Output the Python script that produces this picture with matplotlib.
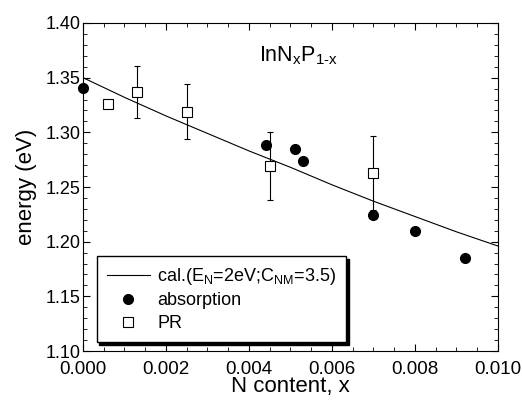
import numpy as np
import matplotlib
matplotlib.use("Agg")
import matplotlib.pyplot as plt
from matplotlib.ticker import MultipleLocator, FormatStrFormatter
from matplotlib.lines import Line2D

plt.rcParams['font.family'] = ['Liberation Sans', 'DejaVu Sans']
plt.rcParams['mathtext.fontset'] = 'custom'
plt.rcParams['mathtext.rm'] = 'Liberation Sans'
plt.rcParams['mathtext.it'] = 'Liberation Sans'
plt.rcParams['mathtext.default'] = 'rm'

# calculated curve
calc_x = [0.0, 0.001, 0.002, 0.003, 0.004, 0.005, 0.006, 0.007, 0.008, 0.009, 0.010]
calc_y = [1.350, 1.332, 1.315, 1.299, 1.283, 1.268, 1.252, 1.237, 1.223, 1.209, 1.196]

# absorption data
abs_x = [0.0, 0.0044, 0.0051, 0.0053, 0.0070, 0.0080, 0.0092]
abs_y = [1.341, 1.288, 1.285, 1.274, 1.224, 1.210, 1.185]

# PR data
pr_x = [0.0006, 0.0013, 0.0025, 0.0045, 0.0070]
pr_y = [1.326, 1.337, 1.319, 1.269, 1.263]
pr_err = [0.0, 0.024, 0.025, 0.031, 0.034]

fig = plt.figure(figsize=(5.22, 4.0), dpi=100)
ax = fig.add_axes([0.159, 0.1225, 0.795, 0.82])

ax.plot(calc_x, calc_y, color='black', lw=0.8)
ax.plot(abs_x, abs_y, 'o', color='black', ms=7, clip_on=False, zorder=5)
ax.errorbar(pr_x, pr_y, yerr=pr_err, fmt='s', mfc='white', mec='black', mew=0.8,
            ms=7, ecolor='black', elinewidth=0.8, capsize=2, capthick=0.8, zorder=4)

ax.set_xlim(0, 0.010)
ax.set_ylim(1.10, 1.40)
ax.xaxis.set_major_locator(MultipleLocator(0.002))
ax.xaxis.set_minor_locator(MultipleLocator(0.0005))
ax.yaxis.set_major_locator(MultipleLocator(0.05))
ax.yaxis.set_minor_locator(MultipleLocator(0.01))
ax.xaxis.set_major_formatter(FormatStrFormatter('%.3f'))
ax.yaxis.set_major_formatter(FormatStrFormatter('%.2f'))
ax.tick_params(which='both', direction='in', top=True, right=True)
ax.tick_params(which='major', length=5)
ax.tick_params(which='minor', length=3)
ax.tick_params(axis='x', pad=7, labelsize=13.5)
ax.tick_params(axis='y', pad=2, labelsize=13)

ax.set_xlabel('N content, x', fontsize=16, labelpad=-1)
ax.set_ylabel('energy (eV)', fontsize=16, labelpad=6)

ax.text(0.52, 0.90, r'InN$_x$P$_{1\text{-}x}$', transform=ax.transAxes,
        fontsize=15.5, ha='center', va='center')

handles = [
    Line2D([], [], color='black', lw=0.8),
    Line2D([], [], ls='none', marker='o', color='black', ms=7),
    Line2D([], [], ls='none', marker='s', mfc='white', mec='black', mew=0.8, ms=7),
]
labels = [r'cal.(E$_N$=2eV;C$_{NM}$=3.5)', 'absorption', 'PR']
leg = ax.legend(handles, labels, loc='lower left', bbox_to_anchor=(0.033, 0.028),
                fontsize=13, frameon=True, fancybox=False, edgecolor='black',
                shadow={'color': 'black', 'alpha': 1.0}, borderpad=0.55,
                handlelength=2.4, handletextpad=0.4, labelspacing=0.3,
                borderaxespad=0)
leg.get_frame().set_linewidth(1.0)

fig.savefig('out.png', dpi=100)
